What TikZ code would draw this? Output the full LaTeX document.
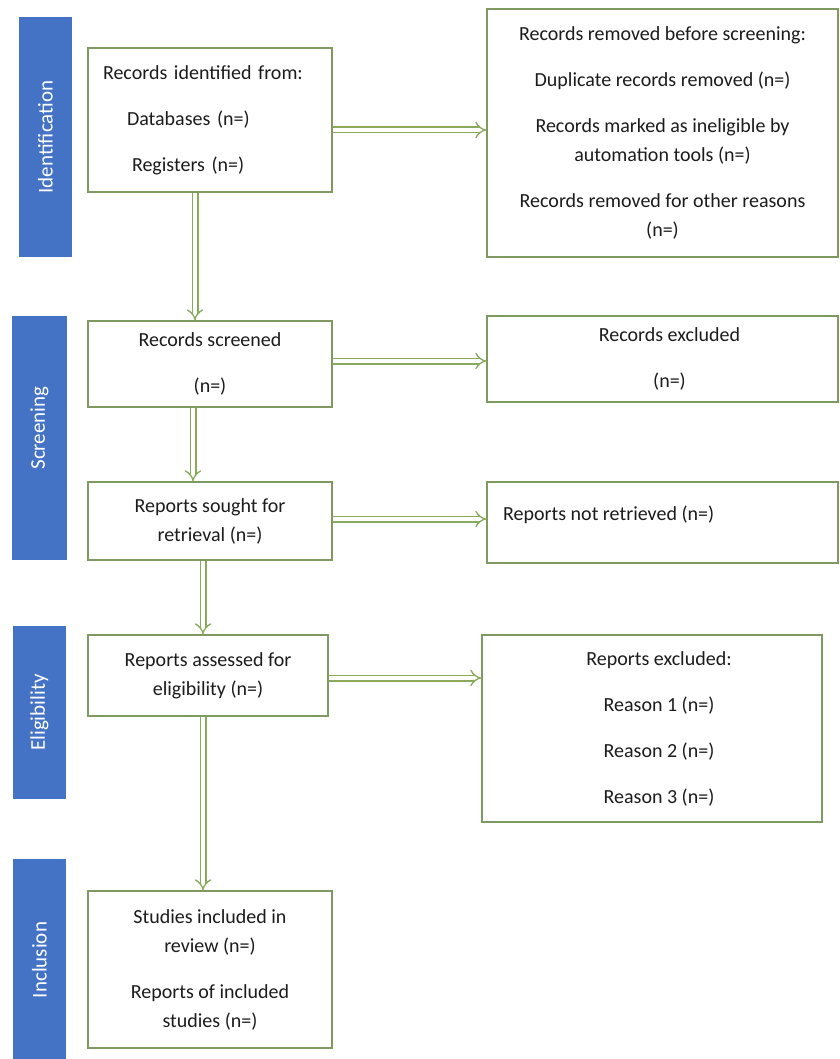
\documentclass[tikz,border=0pt]{standalone}
\usepackage{fontspec}
\setmainfont{Carlito}
\usetikzlibrary{arrows.meta}
\definecolor{boxgreen}{HTML}{7F9A60}
\definecolor{arrowgreen}{HTML}{89AA5C}
\definecolor{phaseblue}{HTML}{4472C4}
\definecolor{txt}{HTML}{1C1C1C}
\tikzset{
  box/.style={draw=boxgreen, line width=1.4pt, fill=white, text=txt,
    align=center, inner sep=0pt, font=\fontsize{20}{29}\selectfont},
  plain/.style={text=txt, inner sep=0pt, font=\fontsize{20}{29}\selectfont},
  phase/.style={fill=phaseblue, draw=none, inner sep=0pt},
  phaselabel/.style={text=white, rotate=90, font=\fontsize{21}{25}\selectfont},
  flow/.style={draw=arrowgreen, line width=1.3pt, double=white,
    double distance=4.4pt, -{Implies}},
}
\begin{document}
\begin{tikzpicture}[x=1pt, y=-1pt]
\useasboundingbox (0,0) rectangle (839,1059);
\fill[white] (0,0) rectangle (839,1059);

% phase bars on the left
\node[phase, minimum width=53pt, minimum height=240pt] (pid) at (45.5,137) {};
\node[phaselabel] (lid) at (pid.center) {Identification};
\node[phase, minimum width=55pt, minimum height=244pt] (psc) at (39.5,438) {};
\node[phaselabel] (lsc) at ([yshift=10]psc.center) {Screening};
\node[phase, minimum width=53pt, minimum height=173pt] (pel) at (39.5,712.5) {};
\node[phaselabel] (lel) at (pel.center) {Eligibility};
\node[phase, minimum width=53pt, minimum height=202pt] (pin) at (39.5,960) {};
\node[phaselabel] (lin) at (pin.center) {Inclusion};

% main column
\node[box, align=left, inner xsep=15pt, text width=214pt, minimum height=144pt] (idb) at (210,120)
  {Records identified from:\\[17pt]\hspace*{24pt}Databases (n=)\\[17pt]\hspace*{29pt}Registers (n=)};
\node[box, minimum width=244pt, minimum height=86pt] (scr) at (210,364)
  {Records screened\\[17pt](n=)};
\node[box, minimum width=244pt, minimum height=78pt] (sou) at (210,521)
  {Reports sought for\\retrieval (n=)};
\node[box, minimum width=240pt, minimum height=81pt] (eli) at (208,675.5)
  {Reports assessed for\\eligibility (n=)};
\node[box, minimum width=244pt, minimum height=157pt] (inc) at (210,969.5)
  {Studies included in\\review (n=)\\[17pt]Reports of included\\studies (n=)};

% exclusion column
\node[box, minimum width=351pt, minimum height=248pt] (rem) at (662.5,133)
  {Records removed before screening:\\[17pt]Duplicate records removed (n=)\\[17pt]Records marked as ineligible by\\automation tools (n=)\\[17pt]Records removed for other reasons\\(n=)};
\node[box, minimum width=351pt, minimum height=86pt] (exc) at (662.5,359)
  {\hspace*{14pt}Records excluded\\[17pt]\hspace*{14pt}(n=)};
\node[box, minimum width=351pt, minimum height=81pt] (nrt) at (662.5,522.5) {};
\node[plain, anchor=west] (nrtt) at (503,515) {Reports not retrieved (n=)};
\node[box, minimum width=340pt, minimum height=187pt] (rex) at (652,728.5)
  {\hspace*{14pt}Reports excluded:\\[17pt]\hspace*{14pt}Reason 1 (n=)\\[17pt]\hspace*{14pt}Reason 2 (n=)\\[17pt]\hspace*{14pt}Reason 3 (n=)};

% connector rows and columns
\coordinate (r1) at (0,130);
\coordinate (r2) at (0,361);
\coordinate (r3) at (0,519);
\coordinate (r4) at (0,678);
\coordinate (k1) at (195,0);
\coordinate (k2) at (193,0);
\coordinate (k3) at (203,0);
\coordinate (k4) at (203,0);

% sideways flows
\draw[flow] (idb.east |- r1) -- (rem.west |- r1);
\draw[flow] (scr.east |- r2) -- (exc.west |- r2);
\draw[flow] (sou.east |- r3) -- (nrt.west |- r3);
\draw[flow] (eli.east |- r4) -- (rex.west |- r4);

% downward flows
\draw[flow] (idb.south -| k1) -- (scr.north -| k1);
\draw[flow] (scr.south -| k2) -- (sou.north -| k2);
\draw[flow] (sou.south -| k3) -- (eli.north -| k3);
\draw[flow] (eli.south -| k4) -- (inc.north -| k4);
\end{tikzpicture}
\end{document}
